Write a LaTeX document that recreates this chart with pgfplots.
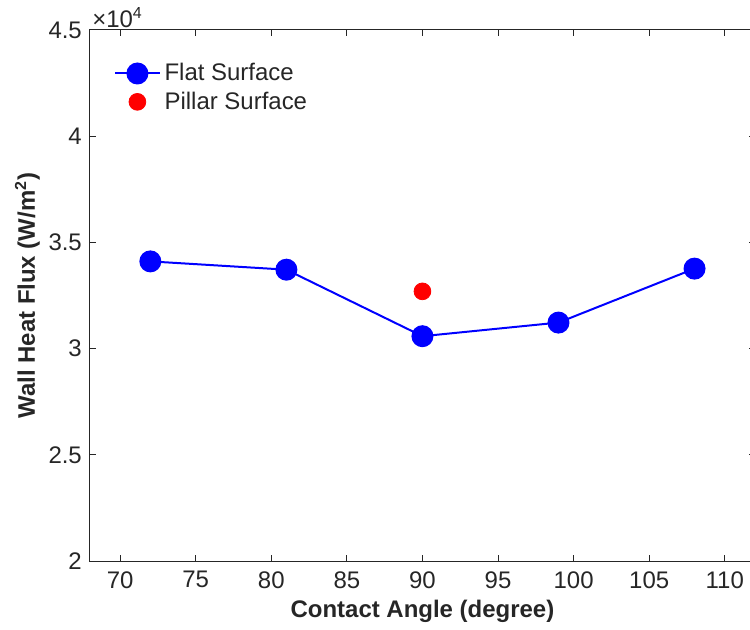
\documentclass[border=0pt]{standalone}
\usepackage{fontspec}
\setmainfont{Liberation Sans}
\usepackage{pgfplots}
\pgfplotsset{compat=1.18}
\usetikzlibrary{calc}
\definecolor{axgray}{gray}{0.15}
\begin{document}
\begin{tikzpicture}
\begin{axis}[
  name=ax,
  scale only axis,
  width=333pt, height=266pt,
  xmin=68, xmax=112, ymin=2, ymax=4.5,
  xtick={70,75,...,110},
  ytick={2,2.5,3,3.5,4,4.5},
  yticklabels={2,2.5,3,3.5,4,4.5},
  /pgf/number format/assume math mode=true,
  tick label style={font=\fontsize{12}{14}\selectfont, text=axgray},
  xticklabel style={yshift=-1.5pt},
  yticklabel style={xshift=-0.5pt},
  tick align=inside,
  major tick length=3pt,
  axis line style={axgray, line width=0.5pt},
  every tick/.style={axgray, line width=0.5pt},
  xlabel={\bfseries Contact Angle (degree)},
  ylabel={\bfseries Wall Heat Flux (W/m\textsuperscript{2})},
  label style={font=\fontsize{12}{14}\selectfont, text=axgray},
  xlabel style={yshift=1pt},
  ylabel style={yshift=-2.5pt},
  legend style={draw=none, fill=none, at={(rel axis cs:0,1)}, anchor=north west, xshift=10pt, yshift=-12.5pt, font=\fontsize{12}{14}\selectfont, text=axgray, row sep=0pt, inner sep=2pt},
  legend cell align=left,
  legend image code/.code={\draw[#1, mark repeat=2, mark phase=2] plot coordinates {(0cm,0cm) (0.39cm,0cm) (0.78cm,0cm)};},
  clip=false,
]
\addplot[color=blue, line width=1pt, mark=*, mark size=5pt, mark options={fill=blue, draw=blue}]
  coordinates {(72,3.411) (81,3.372) (90,3.059) (99,3.123) (108,3.377)};
\addlegendentry{Flat Surface}
\addplot[only marks, color=red, mark=*, mark size=4.2pt, mark options={fill=red, draw=red}]
  coordinates {(90,3.270)};
\addlegendentry{Pillar Surface}
\node[anchor=south west, inner sep=1pt, font=\fontsize{12}{14}\selectfont, text=axgray] at (rel axis cs:0,1) {×10\textsuperscript{4}};
\end{axis}
\pgfresetboundingbox
\path[use as bounding box] ([shift={(-45pt,-34pt)}]ax.south west) rectangle ([shift={(-2.5pt,15pt)}]ax.north east);
\end{tikzpicture}
\end{document}
